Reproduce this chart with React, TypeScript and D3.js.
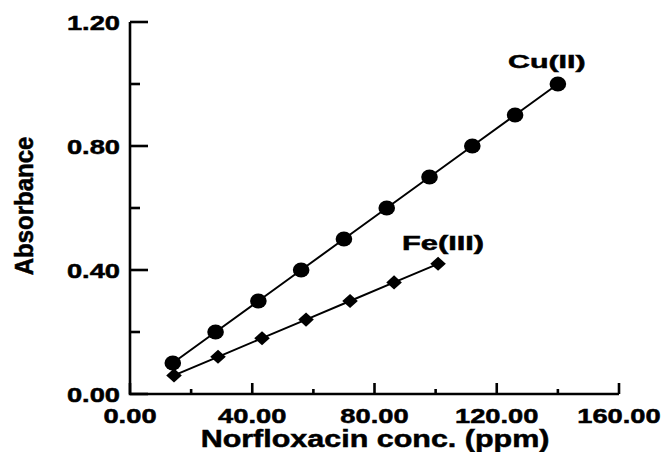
import React from 'react';
import * as d3 from 'd3';

// Cu(II) series
const cuConc = [14, 28, 42, 56, 70, 84, 98, 112, 126, 140];
const cuAbs = [0.1, 0.2, 0.3, 0.4, 0.5, 0.6, 0.7, 0.8, 0.9, 1.0];
// Fe(III) series
const feConc = [14.4, 28.8, 43.2, 57.6, 72, 86.4, 100.8];
const feAbs = [0.06, 0.12, 0.18, 0.24, 0.3, 0.36, 0.42];

const xMajor = [0, 40, 80, 120, 160];
const xMinor = [20, 60, 100, 140];
const yMajor = [0, 0.4, 0.8, 1.2];
const yMinor = [0.2, 0.6, 1.0];

const W = 667;
const H = 452;
const FONT = "'Liberation Sans', Arial, Helvetica, sans-serif";

const x = d3.scaleLinear().domain([0, 160]).range([130, 619]);
const y = d3.scaleLinear().domain([0, 1.2]).range([394, 22]);

const line = d3.line<[number, number]>()
  .x(d => x(d[0]))
  .y(d => y(d[1]));

const Txt = ({ px, py, sx, size, anchor = 'middle', children, rotate = 0 }: any) => (
  <text
    transform={`translate(${px},${py}) scale(${sx},1)${rotate ? ` rotate(${rotate})` : ''}`}
    textAnchor={anchor}
    fontFamily={FONT}
    fontWeight="bold"
    fontSize={size}
    fill="#000"
    stroke="#000"
    strokeWidth={0.5}
  >
    {children}
  </text>
);

export default function App() {
  const cu = cuConc.map((c, i) => [c, cuAbs[i]] as [number, number]);
  const fe = feConc.map((c, i) => [c, feAbs[i]] as [number, number]);
  const diamond = d3.symbol().type(d3.symbolSquare).size(110)();

  return (
    <svg width={W} height={H} style={{ position: 'absolute', left: 0, top: 0, background: '#fff' }}>
      {/* axes */}
      <path d={`M${x(0)},${y(1.2)} V${y(0)} H${x(160)}`} fill="none" stroke="#000" strokeWidth={2.6} />
      {yMajor.map(v => (
        <line key={'ym' + v} x1={x(0)} x2={x(0) + 18} y1={y(v)} y2={y(v)} stroke="#000" strokeWidth={2.6} />
      ))}
      {yMinor.map(v => (
        <line key={'yn' + v} x1={x(0)} x2={x(0) + 10} y1={y(v)} y2={y(v)} stroke="#000" strokeWidth={2.6} />
      ))}
      {xMajor.map(v => (
        <line key={'xm' + v} x1={x(v)} x2={x(v)} y1={y(0)} y2={y(0) - 11} stroke="#000" strokeWidth={2.6} />
      ))}
      {xMinor.map(v => (
        <line key={'xn' + v} x1={x(v)} x2={x(v)} y1={y(0)} y2={y(0) - 5} stroke="#000" strokeWidth={2.6} />
      ))}

      {/* tick labels */}
      {yMajor.map(v => (
        <Txt key={'yl' + v} px={120} py={y(v) + 8} sx={1.3} size={21} anchor="end">
          {v.toFixed(2)}
        </Txt>
      ))}
      {xMajor.map(v => (
        <Txt key={'xl' + v} px={x(v)} py={423} sx={1.3} size={21}>
          {v.toFixed(2)}
        </Txt>
      ))}

      {/* axis titles */}
      <Txt px={375} py={447} sx={1.27} size={24}>Norfloxacin conc. (ppm)</Txt>
      <Txt px={33} py={206} sx={1.05} size={24} rotate={-90}>Absorbance</Txt>

      {/* series */}
      <path d={line(cu) || ''} fill="none" stroke="#000" strokeWidth={2} />
      <path d={line(fe) || ''} fill="none" stroke="#000" strokeWidth={2} />
      {cu.map((d, i) => (
        <ellipse key={'c' + i} cx={x(d[0])} cy={y(d[1])} rx={8.3} ry={7.5} fill="#000" />
      ))}
      {fe.map((d, i) => (
        <path key={'f' + i} d={diamond || ''} transform={`translate(${x(d[0])},${y(d[1])}) scale(1.05,0.95) rotate(45)`} fill="#000" />
      ))}

      {/* series labels */}
      <Txt px={508} py={68} sx={1.6} size={19} anchor="start">Cu(II)</Txt>
      <Txt px={402} py={250} sx={1.58} size={19.5} anchor="start">Fe(III)</Txt>
    </svg>
  );
}
